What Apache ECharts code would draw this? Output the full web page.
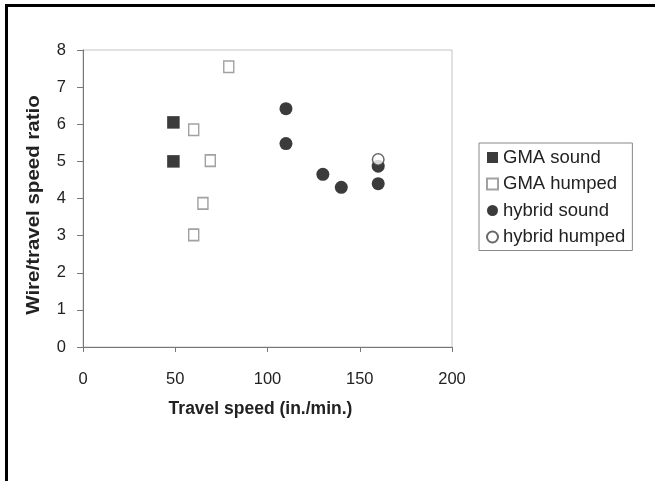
<!DOCTYPE html>
<html>
<head>
<meta charset="utf-8">
<script src="https://cdn.jsdelivr.net/npm/echarts@6/dist/echarts.min.js"></script>
<style>
  html, body { margin: 0; padding: 0; background: #fff; }
  #chart { width: 655px; height: 481px; }
</style>
</head>
<body>
<div id="chart"></div>
<script>
// values
const gmaSound = [[49, 6.05], [49, 5.0]];
const gmaHumped = [[79, 7.55], [60, 5.85], [69, 5.02], [65, 3.87], [60, 3.02]];
const hybridSound = [[110, 6.42], [110, 5.48], [130, 4.65], [140, 4.3], [160, 4.87], [160, 4.4]];
const hybridHumped = [[160, 5.05]];

const xTicks = { min: 0, max: 200, interval: 50 };
const yTicks = { min: 0, max: 8, interval: 1 };

const font = 'Liberation Sans, Arial, sans-serif';

const chart = echarts.init(document.getElementById('chart'), null, { renderer: 'canvas' });

chart.setOption({
  animation: false,
  backgroundColor: '#fff',
  textStyle: { fontFamily: font },
  grid: {
    left: 83, top: 50, right: 203, bottom: 134,
    show: true, borderColor: '#c4c4c4', borderWidth: 1
  },
  xAxis: {
    type: 'value',
    min: xTicks.min, max: xTicks.max, interval: xTicks.interval,
    name: 'Travel speed (in./min.)',
    nameLocation: 'middle',
    nameGap: 53,
    nameTextStyle: { fontSize: 17.5, fontWeight: 'bold', color: '#222', padding: [0, 14, 0, 0] },
    axisLine: { show: true, lineStyle: { color: '#777', width: 1 } },
    axisTick: { show: true, inside: false, length: 5, lineStyle: { color: '#777' } },
    axisLabel: { fontSize: 16.5, color: '#222', margin: 24 },
    splitLine: { show: false }
  },
  yAxis: {
    type: 'value',
    min: yTicks.min, max: yTicks.max, interval: yTicks.interval,
    axisLine: { show: true, lineStyle: { color: '#777', width: 1 } },
    axisTick: { show: true, inside: false, length: 6, lineStyle: { color: '#777' } },
    axisLabel: { fontSize: 16.5, color: '#222', margin: 17 },
    splitLine: { show: false }
  },
  legend: {
    orient: 'vertical',
    left: 479, top: 143,
    padding: [5, 7, 4, 7],
    itemWidth: 11, itemHeight: 11,
    itemGap: 7.5,
    borderColor: '#888', borderWidth: 1,
    textStyle: { fontSize: 18.5, color: '#222', fontFamily: font },
    data: ['GMA sound', 'GMA humped', 'hybrid sound', 'hybrid humped']
  },
  series: [
    {
      name: 'GMA sound', type: 'scatter', symbol: 'rect', symbolSize: 12.5,
      itemStyle: { color: '#0a0a0a' },
      data: gmaSound
    },
    {
      name: 'GMA humped', type: 'scatter', symbol: 'rect', symbolSize: [10, 11.5],
      itemStyle: { color: '#fff', borderColor: '#8a8a8a', borderWidth: 1.5 },
      data: gmaHumped
    },
    {
      name: 'hybrid sound', type: 'scatter', symbol: 'circle', symbolSize: 13,
      itemStyle: { color: '#0a0a0a' },
      data: hybridSound
    },
    {
      name: 'hybrid humped', type: 'scatter', symbol: 'circle', symbolSize: 11.5,
      itemStyle: { color: '#fff', borderColor: '#444', borderWidth: 1.5 },
      data: hybridHumped
    }
  ],
  graphic: [
    // page frame: top and left edges only, as in the scan
    { type: 'rect', shape: { x: 5, y: 4, width: 650, height: 3 }, style: { fill: '#000' } },
    { type: 'rect', shape: { x: 5, y: 4, width: 3, height: 477 }, style: { fill: '#000' } },
    // y axis title, stretched along its length like the scan
    {
      type: 'text', x: 34, y: 205, rotation: Math.PI / 2, scaleX: 1.17,
      style: {
        text: 'Wire/travel speed ratio', fontSize: 17.5, fontWeight: 'bold',
        fontFamily: font, fill: '#222', align: 'center', verticalAlign: 'middle'
      }
    }
  ]
});
</script>
</body>
</html>
